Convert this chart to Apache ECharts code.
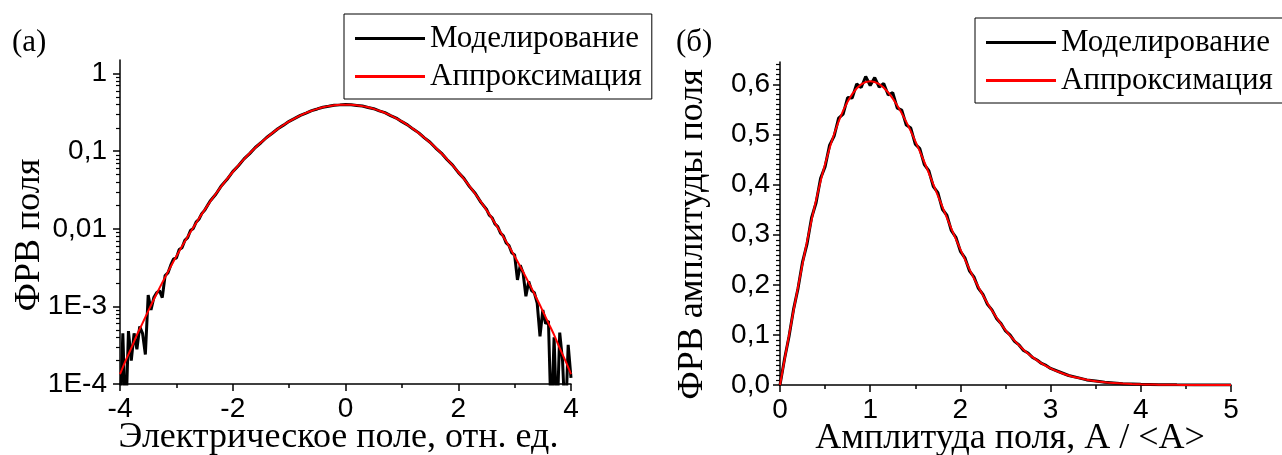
<!DOCTYPE html>
<html>
<head>
<meta charset="utf-8">
<script src="https://cdn.jsdelivr.net/npm/echarts@6/dist/echarts.min.js"></script>
<style>html,body{margin:0;padding:0;background:#fff;}#c{width:1282px;height:455px;}</style>
</head>
<body>
<div id="c"></div>
<script>
// ---------- Panel (а): field PDF, log scale ----------
const leftSimX = [-4.00,-3.95,-3.90,-3.85,-3.80,-3.75,-3.70,-3.65,-3.60,-3.55,-3.50,-3.45,-3.40,-3.35,-3.30,-3.25,-3.20,-3.15,-3.10,-3.05,-3.00,-2.95,-2.90,-2.85,-2.80,-2.75,-2.70,-2.65,-2.60,-2.55,-2.50,
  -2.4,-2.3,-2.2,-2.1,-2.0,-1.9,-1.8,-1.7,-1.6,-1.5,-1.4,-1.3,-1.2,-1.1,-1.0,-0.9,-0.8,-0.7,-0.6,-0.5,-0.4,-0.3,-0.2,-0.1,0.0,
  0.1,0.2,0.3,0.4,0.5,0.6,0.7,0.8,0.9,1.0,1.1,1.2,1.3,1.4,1.5,1.6,1.7,1.8,1.9,2.0,2.1,2.2,2.3,2.4,
  2.50,2.55,2.60,2.65,2.70,2.75,2.80,2.85,2.90,2.95,3.00,3.05,3.10,3.15,3.20,3.25,3.30,3.35,3.40,3.45,3.50,3.55,3.60,3.65,3.70,3.75,3.80,3.85,3.90,3.95,4.00];
const leftSimY = [0.00003,0.00045,0.00003,0.00048,0.00020,0.00045,0.00028,0.00055,0.00045,0.00024,0.00140,0.00090,0.00130,0.00150,0.00160,0.00130,0.00250,0.00270,0.00340,0.00410,0.00420,0.00540,0.00570,0.00710,0.00770,0.00950,0.01010,0.01220,0.01330,0.01570,0.01730,
  0.0229,0.0279,0.0360,0.0435,0.0546,0.0651,0.0797,0.0932,0.1118,0.1287,0.1505,0.1705,0.1952,0.2170,0.2430,0.2652,0.2905,0.3110,0.3340,0.3510,0.3695,0.3800,0.3925,0.3960,0.4005,
  0.3965,0.3900,0.3830,0.3670,0.3535,0.3315,0.3140,0.2880,0.2675,0.2405,0.2190,0.1930,0.1725,0.1490,0.1305,0.1100,0.0948,0.0783,0.0663,0.0534,0.0447,0.0350,0.0288,0.0221,
  0.0179,0.0150,0.0139,0.0116,0.0107,0.0088,0.0081,0.0066,0.0061,0.0049,0.0046,0.0022,0.0034,0.0027,0.00135,0.0021,0.0016,0.0015,0.0011,0.00041,0.00090,0.00060,0.00065,0.00003,0.00040,0.00003,0.00046,0.00020,0.00003,0.00032,0.00012];
const leftFitX = [-4.0,-3.9,-3.8,-3.7,-3.6,-3.5,-3.4,-3.3,-3.2,-3.1,-3.0,-2.9,-2.8,-2.7,-2.6,-2.5,-2.4,-2.3,-2.2,-2.1,-2.0,-1.9,-1.8,-1.7,-1.6,-1.5,-1.4,-1.3,-1.2,-1.1,-1.0,-0.9,-0.8,-0.7,-0.6,-0.5,-0.4,-0.3,-0.2,-0.1,0.0,
  0.1,0.2,0.3,0.4,0.5,0.6,0.7,0.8,0.9,1.0,1.1,1.2,1.3,1.4,1.5,1.6,1.7,1.8,1.9,2.0,2.1,2.2,2.3,2.4,2.5,2.6,2.7,2.8,2.9,3.0,3.1,3.2,3.3,3.4,3.5,3.6,3.7,3.8,3.9,4.0];
const leftFitY = [0.000134,0.00020,0.00029,0.00043,0.00061,0.00087,0.00123,0.00172,0.00238,0.00327,0.00443,0.00595,0.00792,0.0104,0.0136,0.0175,0.0224,0.0283,0.0355,0.0440,0.0540,0.0656,0.0790,0.0941,0.1109,0.1295,0.1497,0.1714,0.1942,0.2179,0.2420,0.2661,0.2897,0.3123,0.3332,0.3521,0.3683,0.3814,0.3910,0.3970,0.3989,
  0.3970,0.3910,0.3814,0.3683,0.3521,0.3332,0.3123,0.2897,0.2661,0.2420,0.2179,0.1942,0.1714,0.1497,0.1295,0.1109,0.0941,0.0790,0.0656,0.0540,0.0440,0.0355,0.0283,0.0224,0.0175,0.0136,0.0104,0.00792,0.00595,0.00443,0.00327,0.00238,0.00172,0.00123,0.00087,0.00061,0.00043,0.00029,0.00020,0.000134];
const leftYTickValues = [0.0001, 0.001, 0.01, 0.1, 1];
const leftYTickLabels = ['1E-4', '1E-3', '0,01', '0,1', '1'];

// ---------- Panel (б): amplitude PDF ----------
const rightSimX = [0.00,0.05,0.10,0.15,0.20,0.25,0.30,0.35,0.40,0.45,0.50,0.55,0.60,0.65,0.70,0.75,0.80,0.85,0.90,0.95,1.00,1.05,1.10,1.15,1.20,1.25,1.30,1.35,1.40,1.45,1.50,1.55,1.60,1.65,1.70,1.75,1.80,1.85,1.90,1.95,2.00,2.05,2.10,2.15,2.20,2.25,2.30,2.35,2.40,2.45,2.50,2.55,2.60,2.65,2.70,2.75,2.80,2.85,2.90,2.95,3.00,3.10,3.20,3.30,3.40,3.50,3.60,3.70,3.80,3.90,4.00,4.20,4.40,4.60,4.80,5.00];
const rightSimY = [0,0.052,0.097,0.151,0.193,0.246,0.282,0.334,0.364,0.413,0.436,0.479,0.497,0.533,0.541,0.574,0.573,0.601,0.594,0.616,0.598,0.614,0.595,0.602,0.579,0.584,0.553,0.549,0.519,0.513,0.481,0.472,0.440,0.428,0.396,0.384,0.351,0.339,0.308,0.295,0.267,0.254,0.228,0.216,0.193,0.181,0.161,0.150,0.133,0.123,0.108,0.100,0.087,0.080,0.069,0.064,0.055,0.050,0.043,0.039,0.033,0.026,0.019,0.0148,0.0102,0.0079,0.0053,0.0041,0.0027,0.0020,0.0013,0.0006,0.0003,0.0001,0.00005,0];
const rightFitX = [0.0,0.1,0.2,0.3,0.4,0.5,0.6,0.7,0.8,0.9,1.0,1.1,1.2,1.3,1.4,1.5,1.6,1.7,1.8,1.9,2.0,2.1,2.2,2.3,2.4,2.5,2.6,2.7,2.8,2.9,3.0,3.1,3.2,3.3,3.4,3.5,3.6,3.7,3.8,3.9,4.0,4.1,4.2,4.3,4.4,4.5,4.6,4.7,4.8,4.9,5.0];
const rightFitY = [0,0.0995,0.1960,0.2868,0.3692,0.4412,0.5012,0.5478,0.5809,0.6003,0.6065,0.6007,0.5841,0.5583,0.5254,0.4870,0.4453,0.4008,0.3560,0.3123,0.2707,0.2315,0.1956,0.1633,0.1348,0.1098,0.0885,0.0705,0.0556,0.0433,0.0333,0.0254,0.0191,0.0143,0.0105,0.00766,0.00552,0.00394,0.00278,0.00194,0.00134,0.00092,0.00062,0.00041,0.000275,0.00018,0.00012,0.000075,0.00005,0.00003,0.00002];
const rightYTickValues = [0, 0.1, 0.2, 0.3, 0.4, 0.5, 0.6];

const seriesNames = ['Моделирование', 'Аппроксимация'];
const panelLabels = ['(а)', '(б)'];
const xTitles = ['Электрическое поле, отн. ед.', 'Амплитуда поля, A / <A>'];
const yTitles = ['ФРВ поля', 'ФРВ амплитуды поля'];

// ---------- helpers ----------
const zip = (xs, ys) => xs.map((x, i) => [x, ys[i]]);
const SERIF = 'Liberation Serif, Times New Roman, serif';
const SANS = 'Liberation Sans, Arial, sans-serif';
const LEFT_YMAX = 1.5;
const RIGHT_YMAX = 0.645;
// log-axis tick decoration positions (in log10 space)
const logMajor = leftYTickValues.map(v => Math.log10(v));
const logMinor = [];
for (let d = -4; d <= 0; d++) for (let k = 2; k <= 9; k++) {
  const v = k * Math.pow(10, d);
  if (v <= LEFT_YMAX) logMinor.push(Math.log10(v));
}
const rightMinor = [];
for (let i = 1; i <= 64; i++) if (i % 10 !== 0) rightMinor.push(+(i / 100).toFixed(2));

const axisLineStyle = { color: '#000', width: 1.5 };
const labelStyle = { color: '#000', fontFamily: SANS, fontSize: 28 };
const nameStyle = { color: '#000', fontFamily: SERIF, fontSize: 36 };
const legendBase = {
  orient: 'vertical', data: seriesNames, borderColor: '#000', borderWidth: 1,
  padding: [9, 10, 7, 11], itemWidth: 70, itemHeight: 3, itemGap: 7, icon: 'rect',
  textStyle: { color: '#000', fontFamily: SERIF, fontSize: 31, lineHeight: 31 }
};

const chart = echarts.init(document.getElementById('c'), null, { renderer: 'canvas' });
chart.setOption({
  animation: false,
  backgroundColor: '#fff',
  grid: [
    { left: 120, top: 60, width: 451, height: 324, outerBoundsMode: 'none', containLabel: false },
    { left: 780, top: 62, width: 451, height: 323, outerBoundsMode: 'none', containLabel: false }
  ],
  legend: [
    Object.assign({ left: 344, top: 14 }, legendBase),
    Object.assign({ left: 975, top: 18 }, legendBase)
  ],
  graphic: [
    { type: 'text', left: 12, top: 27, style: { text: panelLabels[0], fill: '#000', font: '31px ' + SERIF } },
    { type: 'text', left: 676, top: 27, style: { text: panelLabels[1], fill: '#000', font: '31px ' + SERIF } }
  ],
  xAxis: [
    { type: 'value', gridIndex: 0, min: -4, max: 4, interval: 2, position: 'bottom',
      axisLine: { onZero: false, lineStyle: axisLineStyle }, axisTick: { length: 7, lineStyle: { color: '#000', width: 1.5 } },
      minorTick: { show: true, splitNumber: 2, length: 4, lineStyle: { color: '#000', width: 1.5 } },
      splitLine: { show: false }, axisLabel: Object.assign({ margin: 11 }, labelStyle),
      name: xTitles[0], nameLocation: 'middle', nameGap: 36, nameMoveOverlap: false,
      nameTextStyle: Object.assign({ padding: [0, 14, 0, 0] }, nameStyle) },
    { type: 'value', gridIndex: 1, min: 0, max: 5, interval: 1, position: 'bottom',
      axisLine: { onZero: false, lineStyle: axisLineStyle }, axisTick: { length: 7, lineStyle: { color: '#000', width: 1.5 } },
      minorTick: { show: true, splitNumber: 2, length: 4, lineStyle: { color: '#000', width: 1.5 } },
      splitLine: { show: false }, axisLabel: Object.assign({ margin: 11 }, labelStyle),
      name: xTitles[1], nameLocation: 'middle', nameGap: 36, nameMoveOverlap: false,
      nameTextStyle: Object.assign({ padding: [0, 0, 0, 9] }, nameStyle) }
  ],
  yAxis: [
    // 0: main log axis of panel (а)
    { type: 'log', gridIndex: 0, logBase: 10, min: leftYTickValues[0], max: LEFT_YMAX, position: 'left',
      axisLine: { show: true, onZero: false, lineStyle: axisLineStyle }, axisTick: { show: false },
      splitLine: { show: false }, minorSplitLine: { show: false },
      axisLabel: Object.assign({ margin: 13, showMaxLabel: false,
        formatter: function (v) {
          const l = Math.log10(v), k = Math.round(l);
          if (Math.abs(l - k) > 0.01) return '';
          const idx = leftYTickValues.findIndex(t => Math.round(Math.log10(t)) === k);
          return idx >= 0 ? leftYTickLabels[idx] : '';
        } }, labelStyle),
      name: yTitles[0], nameLocation: 'middle', nameGap: 72, nameMoveOverlap: false,
      nameTextStyle: Object.assign({ padding: [0, 26, 0, 0] }, nameStyle) },
    // 1: major tick decoration (log10 space)
    { type: 'value', gridIndex: 0, min: -4, max: Math.log10(LEFT_YMAX), position: 'left',
      axisLine: { show: false, onZero: false }, axisLabel: { show: false }, splitLine: { show: false },
      axisTick: { show: true, customValues: logMajor, length: 7, lineStyle: { color: '#000', width: 1.5 } } },
    // 2: minor tick decoration (log10 space)
    { type: 'value', gridIndex: 0, min: -4, max: Math.log10(LEFT_YMAX), position: 'left',
      axisLine: { show: false, onZero: false }, axisLabel: { show: false }, splitLine: { show: false },
      axisTick: { show: true, customValues: logMinor, length: 4, lineStyle: { color: '#000', width: 1.2 } } },
    // 3: main axis of panel (б)
    { type: 'value', gridIndex: 1, min: 0, max: RIGHT_YMAX, position: 'left',
      axisLine: { show: true, onZero: false, lineStyle: axisLineStyle }, splitLine: { show: false },
      axisTick: { show: true, customValues: rightYTickValues, length: 7, lineStyle: { color: '#000', width: 1.5 } },
      axisLabel: Object.assign({ margin: 10, customValues: rightYTickValues,
        formatter: v => v.toFixed(1).replace('.', ',') }, labelStyle),
      name: yTitles[1], nameLocation: 'middle', nameGap: 69, nameMoveOverlap: false,
      nameTextStyle: Object.assign({ padding: [0, 22, 0, 0] }, nameStyle) },
    // 4: minor ticks of panel (б)
    { type: 'value', gridIndex: 1, min: 0, max: RIGHT_YMAX, position: 'left',
      axisLine: { show: false, onZero: false }, axisLabel: { show: false }, splitLine: { show: false },
      axisTick: { show: true, customValues: rightMinor, length: 4, lineStyle: { color: '#000', width: 1.2 } } }
  ],
  series: [
    { name: seriesNames[0], type: 'line', xAxisIndex: 0, yAxisIndex: 0, data: zip(leftSimX, leftSimY),
      symbol: 'none', lineStyle: { color: '#000', width: 3 }, itemStyle: { color: '#000' }, z: 2 },
    { name: seriesNames[1], type: 'line', xAxisIndex: 0, yAxisIndex: 0, data: zip(leftFitX, leftFitY),
      symbol: 'none', smooth: 0.3, lineStyle: { color: '#ff0000', width: 2 }, itemStyle: { color: '#ff0000' }, z: 3 },
    { name: seriesNames[0], type: 'line', xAxisIndex: 1, yAxisIndex: 3, data: zip(rightSimX, rightSimY),
      symbol: 'none', lineStyle: { color: '#000', width: 3 }, itemStyle: { color: '#000' }, z: 2 },
    { name: seriesNames[1], type: 'line', xAxisIndex: 1, yAxisIndex: 3, data: zip(rightFitX, rightFitY),
      symbol: 'none', smooth: 0.3, lineStyle: { color: '#ff0000', width: 2 }, itemStyle: { color: '#ff0000' }, z: 3 }
  ]
});
</script>
</body>
</html>
